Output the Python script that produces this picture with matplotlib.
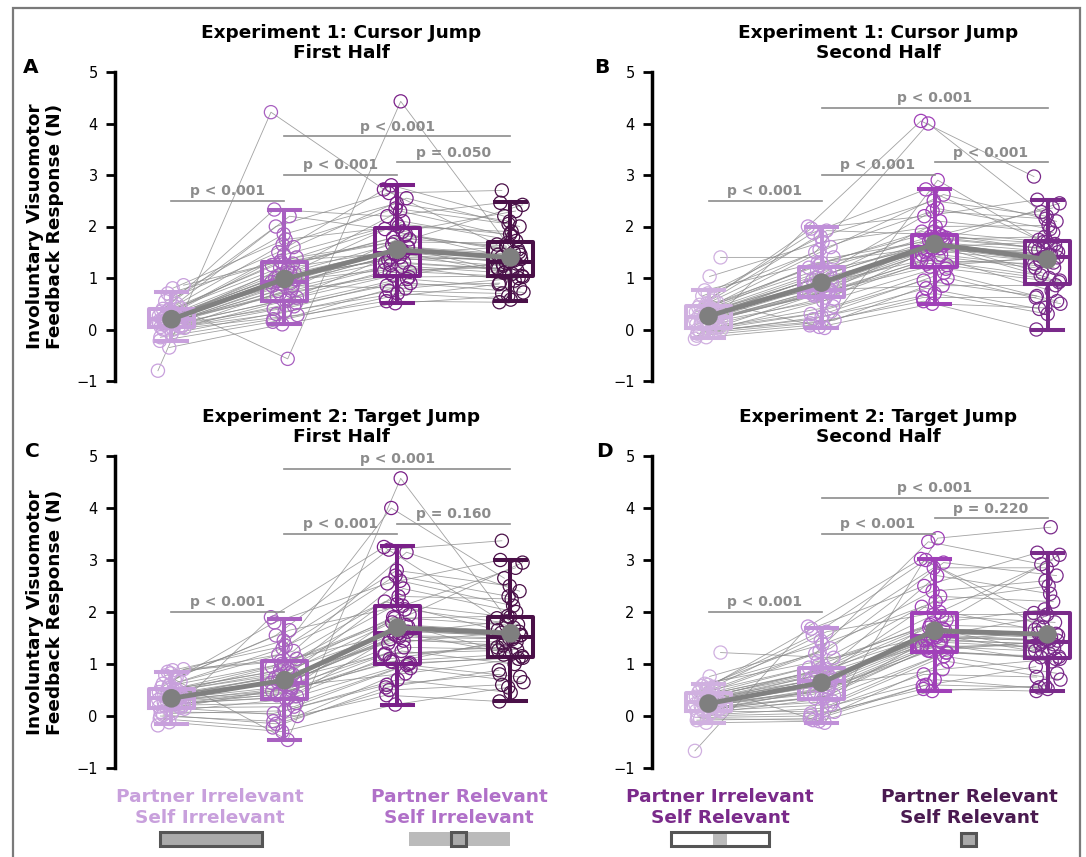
import numpy as np
import matplotlib
matplotlib.use("Agg")
import matplotlib.pyplot as plt
from matplotlib.patches import Rectangle

# ---------------- data ----------------
condition_labels = ["Partner Irrelevant\nSelf Irrelevant", "Partner Relevant\nSelf Irrelevant",
                    "Partner Irrelevant\nSelf Relevant", "Partner Relevant\nSelf Relevant"]
panel_titles = ["Experiment 1: Cursor Jump\nFirst Half", "Experiment 1: Cursor Jump\nSecond Half",
                "Experiment 2: Target Jump\nFirst Half", "Experiment 2: Target Jump\nSecond Half"]
panel_letters = ["A", "B", "C", "D"]
yticks = [-1, 0, 1, 2, 3, 4, 5]
sig_pairs = [(0, 1), (1, 2), (2, 3), (1, 3)]

# Panel A (per-subject values, one list per condition)
A_c1 = [-0.80, 0.45, 0.22, 0.05, 0.62, -0.15, 0.30, 0.13, 0.86, 0.00, 0.40, 0.18, -0.35, 0.26, 0.10, 0.55, 0.20, -0.08,
        0.35, 0.16, 0.70, 0.03, 0.28, 0.12, 0.42, 0.24, -0.22, 0.50, 0.19, 0.08, 0.80, 0.21, 0.06, 0.38, 0.15, 0.32,
        0.10, 0.25, 0.30, 0.05, 0.18, 0.35, 0.15, 0.22, 0.00, 0.28, 0.40, 0.12]
A_c2 = [4.22, -0.57, 0.94, 0.45, 1.85, 0.20, 1.10, 0.70, 1.40, 0.56, 2.00, 0.85, 0.10, 1.25, 0.60, 1.50, 0.97, 0.35,
        2.33, 0.75, 1.33, 0.28, 1.15, 0.65, 1.60, 0.88, 0.15, 2.20, 1.05, 0.52, 1.75, 1.00, 0.80, 1.30, 0.92, 1.20,
        0.75, 1.10, 1.45, 0.40, 0.90, 1.20, 0.62, 1.02, 0.30, 1.28, 1.65, 0.85]
A_c3 = [2.72, 4.43, 1.40, 0.98, 2.45, 0.55, 2.10, 1.05, 1.75, 1.50, 2.65, 0.80, 0.51, 1.95, 1.22, 2.80, 1.60, 0.70,
        2.20, 1.30, 1.48, 0.90, 2.30, 1.10, 2.55, 1.45, 0.62, 1.90, 1.65, 1.02, 2.00, 1.35, 1.82, 1.70, 1.15, 1.55,
        1.25, 1.60, 2.05, 0.85, 1.50, 1.78, 1.12, 1.40, 0.75, 1.85, 2.35, 1.30]
A_c4 = [1.65, 1.50, 1.24, 0.80, 2.10, 0.53, 1.72, 1.30, 2.42, 1.08, 2.70, 1.00, 0.65, 1.45, 0.95, 2.20, 1.37, 0.58,
        2.46, 1.16, 1.60, 0.72, 1.80, 1.27, 2.00, 1.32, 0.88, 2.30, 1.12, 1.04, 1.90, 1.40, 1.55, 1.68, 1.20, 1.34,
        1.10, 1.45, 1.85, 0.90, 1.28, 1.62, 1.02, 1.35, 0.70, 1.50, 2.05, 1.18]
A_q1 = [0.05, 0.55, 1.03, 1.03]
A_med = [0.20, 0.93, 1.48, 1.32]
A_q3 = [0.40, 1.32, 1.97, 1.70]
A_wlo = [-0.23, 0.10, 0.51, 0.55]
A_whi = [0.72, 2.33, 2.81, 2.47]
A_mean = [0.20, 0.98, 1.55, 1.40]
A_sig_y = [2.5, 3.0, 3.25, 3.75]
A_sig_txt = ["p < 0.001", "p < 0.001", "p = 0.050", "p < 0.001"]

# Panel B
B_c1 = [-0.18, 0.56, 0.30, 0.02, 0.70, -0.08, 0.38, 0.15, 1.40, -0.02, 0.48, 0.22, -0.15, 0.34, 0.09, 0.65, 0.26, -0.05,
        0.43, 0.20, 0.76, 0.00, 0.36, 0.12, 0.52, 0.32, -0.12, 0.60, 0.24, 0.06, 1.03, 0.28, 0.04, 0.45, 0.18, 0.40,
        0.12, 0.30, 0.38, 0.00, 0.22, 0.42, 0.18, 0.26, -0.05, 0.34, 0.50, 0.10]
B_c2 = [2.00, 0.03, 0.88, 0.35, 1.80, 0.12, 1.05, 0.70, 1.40, 0.55, 1.88, 0.78, 0.05, 1.20, 0.62, 1.50, 0.92, 0.25,
        1.96, 0.73, 1.30, 0.18, 1.10, 0.66, 1.60, 0.80, 0.08, 1.92, 1.00, 0.45, 1.70, 0.96, 0.76, 1.24, 0.84, 1.15,
        0.68, 1.00, 1.30, 0.30, 0.80, 1.15, 0.60, 0.90, 0.20, 1.10, 1.55, 0.72]
B_c3 = [4.05, 2.90, 1.54, 1.10, 2.50, 0.55, 2.10, 1.22, 1.78, 1.62, 2.72, 0.85, 0.50, 1.90, 1.40, 4.00, 1.68, 0.70,
        2.20, 1.45, 1.60, 1.00, 2.35, 1.28, 2.62, 1.57, 0.62, 1.84, 1.72, 1.18, 2.00, 1.50, 1.81, 1.75, 1.34, 1.65,
        1.35, 1.65, 1.90, 0.95, 1.58, 1.80, 1.25, 1.62, 0.80, 1.75, 2.30, 1.45]
B_c4 = [2.97, 1.62, 1.33, 0.55, 2.20, 0.00, 1.88, 1.40, 2.45, 1.00, 1.74, 0.86, 0.42, 1.58, 0.75, 2.28, 1.50, 0.30,
        2.52, 1.20, 1.70, 0.50, 1.95, 1.37, 2.10, 1.42, 0.62, 2.36, 1.10, 0.92, 2.02, 1.54, 1.66, 1.80, 1.28, 1.45,
        1.05, 1.40, 1.70, 0.65, 1.30, 1.58, 0.95, 1.45, 0.40, 1.55, 2.15, 1.20]
B_q1 = [0.03, 0.64, 1.22, 0.89]
B_med = [0.25, 0.77, 1.60, 1.41]
B_q3 = [0.46, 1.22, 1.83, 1.72]
B_wlo = [-0.16, 0.03, 0.50, 0.00]
B_whi = [0.77, 2.00, 2.73, 2.52]
B_mean = [0.26, 0.91, 1.66, 1.36]
B_sig_y = [2.5, 3.0, 3.25, 4.3]
B_sig_txt = ["p < 0.001", "p < 0.001", "p < 0.001", "p < 0.001"]

# Panel C
C_c1 = [-0.18, 0.70, 0.42, 0.16, 0.82, 0.00, 0.50, 0.29, 0.90, 0.10, 0.62, 0.35, -0.12, 0.46, 0.24, 0.78, 0.38, 0.05,
        0.55, 0.33, 0.85, 0.14, 0.48, 0.27, 0.66, 0.44, -0.05, 0.74, 0.36, 0.21, 0.88, 0.40, 0.18, 0.58, 0.31, 0.52,
        0.20, 0.36, 0.45, 0.08, 0.30, 0.50, 0.25, 0.38, 0.02, 0.42, 0.60, 0.18]
C_c2 = [1.90, -0.46, 0.66, 0.18, 1.45, -0.10, 0.82, 0.45, 1.10, 0.32, 1.55, 0.58, -0.30, 0.95, 0.36, 1.18, 0.70, 0.10,
        1.80, 0.50, 1.05, 0.00, 0.86, 0.40, 1.25, 0.61, -0.22, 1.65, 0.78, 0.25, 1.35, 0.74, 0.54, 1.00, 0.64, 0.90,
        0.42, 0.70, 0.98, 0.05, 0.55, 0.88, 0.38, 0.66, -0.15, 0.80, 1.30, 0.48]
C_c3 = [3.25, 4.57, 1.48, 0.98, 2.80, 0.40, 2.45, 1.04, 1.95, 1.60, 3.20, 0.82, 0.22, 2.20, 1.25, 4.00, 1.72, 0.70,
        2.55, 1.32, 1.58, 0.92, 2.60, 1.10, 3.15, 1.55, 0.55, 2.12, 1.80, 1.00, 2.30, 1.40, 2.05, 1.88, 1.18, 1.65,
        1.05, 1.62, 2.15, 0.60, 1.45, 1.90, 1.02, 1.52, 0.50, 1.75, 2.70, 1.20]
C_c4 = [1.88, 1.70, 1.36, 0.75, 2.50, 0.28, 2.00, 1.45, 2.95, 1.20, 3.37, 1.10, 0.55, 1.65, 1.00, 2.65, 1.56, 0.45,
        3.00, 1.28, 1.82, 0.65, 2.12, 1.40, 2.40, 1.50, 0.88, 2.85, 1.24, 1.15, 2.25, 1.60, 1.76, 1.92, 1.32, 1.52,
        1.18, 1.55, 1.90, 0.80, 1.42, 1.75, 1.12, 1.48, 0.60, 1.62, 2.30, 1.26]
C_q1 = [0.16, 0.32, 1.00, 1.14]
C_med = [0.35, 0.64, 1.59, 1.51]
C_q3 = [0.51, 1.05, 2.12, 1.91]
C_wlo = [-0.16, -0.46, 0.22, 0.28]
C_whi = [0.85, 1.87, 3.26, 3.00]
C_mean = [0.34, 0.69, 1.70, 1.59]
C_sig_y = [2.0, 3.5, 3.7, 4.75]
C_sig_txt = ["p < 0.001", "p < 0.001", "p = 0.160", "p < 0.001"]

# Panel D
D_c1 = [-0.67, 0.54, 0.33, 0.11, 0.60, -0.03, 0.41, 0.21, 1.22, 0.06, 0.50, 0.26, -0.13, 0.37, 0.17, 0.58, 0.29, 0.02,
        0.45, 0.25, 0.62, 0.09, 0.39, 0.19, 0.52, 0.35, -0.08, 0.56, 0.27, 0.15, 0.76, 0.31, 0.13, 0.47, 0.23, 0.43,
        0.12, 0.27, 0.35, 0.00, 0.20, 0.40, 0.15, 0.28, -0.05, 0.33, 0.48, 0.10]
D_c2 = [1.72, -0.13, 0.69, 0.22, 1.45, 0.00, 0.82, 0.46, 1.12, 0.33, 1.55, 0.60, -0.10, 0.93, 0.38, 1.20, 0.72, 0.15,
        1.68, 0.50, 1.05, 0.08, 0.86, 0.42, 1.30, 0.64, -0.05, 1.62, 0.78, 0.28, 1.38, 0.75, 0.55, 0.98, 0.67, 0.90,
        0.35, 0.68, 0.90, 0.05, 0.55, 0.85, 0.40, 0.66, -0.08, 0.75, 1.25, 0.45]
D_c3 = [3.02, 3.42, 1.48, 1.15, 2.85, 0.52, 2.30, 1.25, 1.85, 1.56, 3.00, 0.90, 0.48, 2.10, 1.38, 3.35, 1.65, 0.70,
        2.50, 1.42, 1.53, 1.05, 2.70, 1.30, 2.95, 1.51, 0.58, 2.00, 1.70, 1.22, 2.20, 1.45, 1.92, 1.78, 1.34, 1.60,
        1.26, 1.55, 1.95, 0.80, 1.45, 1.75, 1.22, 1.52, 0.60, 1.68, 2.40, 1.35]
D_c4 = [1.98, 3.63, 1.38, 0.82, 2.85, 0.48, 2.20, 1.43, 3.10, 1.20, 1.72, 1.10, 0.58, 1.66, 1.05, 2.92, 1.55, 0.52,
        3.14, 1.30, 1.90, 0.70, 2.35, 1.41, 2.70, 1.46, 0.95, 3.00, 1.25, 1.14, 2.50, 1.60, 1.80, 2.05, 1.35, 1.50,
        1.13, 1.45, 1.95, 0.75, 1.38, 1.70, 1.10, 1.44, 0.55, 1.58, 2.60, 1.25]
D_q1 = [0.10, 0.32, 1.24, 1.12]
D_med = [0.26, 0.67, 1.53, 1.43]
D_q3 = [0.45, 0.92, 1.99, 1.99]
D_wlo = [-0.13, -0.13, 0.48, 0.48]
D_whi = [0.62, 1.70, 3.02, 3.13]
D_mean = [0.24, 0.64, 1.64, 1.57]
D_sig_y = [2.0, 3.5, 3.8, 4.2]
D_sig_txt = ["p < 0.001", "p < 0.001", "p = 0.220", "p < 0.001"]

# ---------------- styles ----------------
first_half_colors = ["#c8a0dc", "#a860c0", "#7a2088", "#4a1048"]
second_half_colors = ["#d0b0e0", "#c090d8", "#a040b8", "#7a2a8a"]
legend_colors = ["#c8a0dc", "#b070c8", "#7a2a8a", "#4a1a50"]
GRAY = "#808080"
SIG_GRAY = "#8c8c8c"
BIG = 13.3

W, H = 1086, 857
fig = plt.figure(figsize=(W / 100, H / 100), dpi=100)


def px_box(x0, y0, x1, y1):
    """pixel box (top-left origin) -> figure fraction rect"""
    return [x0 / W, 1 - y1 / H, (x1 - x0) / W, (y1 - y0) / H]


axes_rects = [px_box(115, 72, 567, 381), px_box(652, 72, 1104, 381),
              px_box(115, 456, 567, 768), px_box(652, 456, 1104, 768)]
letter_pos = [(23, 73), (594, 73), (25, 457), (596, 457)]

panels = [
    ([A_c1, A_c2, A_c3, A_c4], A_q1, A_med, A_q3, A_wlo, A_whi, A_mean, A_sig_y, A_sig_txt, first_half_colors),
    ([B_c1, B_c2, B_c3, B_c4], B_q1, B_med, B_q3, B_wlo, B_whi, B_mean, B_sig_y, B_sig_txt, second_half_colors),
    ([C_c1, C_c2, C_c3, C_c4], C_q1, C_med, C_q3, C_wlo, C_whi, C_mean, C_sig_y, C_sig_txt, first_half_colors),
    ([D_c1, D_c2, D_c3, D_c4], D_q1, D_med, D_q3, D_wlo, D_whi, D_mean, D_sig_y, D_sig_txt, second_half_colors),
]

for k, (data, q1, med, q3, wlo, whi, means, sig_y, sig_txt, colors) in enumerate(panels):
    ax = fig.add_axes(axes_rects[k])
    n = len(data[0])
    jit = ((np.arange(n) * 0.6180339887) % 1.0 - 0.5) * 0.24
    xs = [c + jit for c in range(4)]
    # subject lines
    for s in range(n):
        ax.plot([xs[c][s] for c in range(4)], [data[c][s] for c in range(4)],
                color="#8a8a8a", lw=0.6, alpha=0.8, zorder=1, clip_on=False)
    # subject points
    for c in range(4):
        ax.scatter(xs[c], data[c], s=90, facecolors="none", edgecolors=colors[c],
                   linewidths=0.9, zorder=2, clip_on=False)
    # boxes
    for c in range(4):
        st = [dict(q1=q1[c], med=med[c], q3=q3[c], whislo=wlo[c], whishi=whi[c], label="")]
        lp = dict(color=colors[c], linewidth=2.9)
        ax.bxp(st, positions=[c], widths=0.39, capwidths=0.27, showfliers=False,
               boxprops=lp, whiskerprops=lp, capprops=lp, medianprops=lp,
               manage_ticks=False, zorder=3)
    # means
    ax.plot(range(4), means, color=GRAY, lw=3.5, zorder=5, solid_capstyle="round")
    ax.scatter(range(4), means, s=180, color="#7f7f7f", zorder=6, edgecolors="none")
    # significance
    for (i, j), y, t in zip(sig_pairs, sig_y, sig_txt):
        ax.plot([i, j], [y, y], color=SIG_GRAY, lw=1.2, zorder=4, clip_on=False)
        ax.text((i + j) / 2, y + 0.05, t, ha="center", va="bottom", color=SIG_GRAY,
                fontsize=10, fontweight="bold", zorder=7, clip_on=False)

    ax.set_xlim(-0.5, 3.5)
    ax.set_ylim(-1, 5)
    ax.set_yticks(yticks)
    ax.set_xticks([])
    for sp in ["top", "right", "bottom"]:
        ax.spines[sp].set_visible(False)
    ax.spines["left"].set_linewidth(2.5)
    ax.tick_params(axis="y", direction="out", length=6.5, width=2, pad=6, labelsize=10.5)
    ax.patch.set_alpha(0)
    ax.set_title(panel_titles[k], fontsize=BIG, fontweight="bold", pad=10, linespacing=1.15)
    if k in (0, 2):
        ax.set_ylabel("Involuntary Visuomotor\nFeedback Response (N)", fontsize=BIG,
                      fontweight="bold", labelpad=8.5, linespacing=1.15)
    lx, ly = letter_pos[k]
    fig.text(lx / W, 1 - ly / H, panel_letters[k], fontsize=14.5, fontweight="bold",
             ha="left", va="baseline")

# ---------------- bottom legend ----------------
legend_x = [210, 459, 720, 969]
for lbl, col, x in zip(condition_labels, legend_colors, legend_x):
    fig.text(x / W, 1 - 807.5 / H, lbl, ha="center", va="center", color=col,
             fontsize=BIG, fontweight="bold", linespacing=1.15)


def add_rect(x0, y0, x1, y1, fc, ec="none", lw=0.0):
    r = px_box(x0, y0, x1, y1)
    fig.patches.append(Rectangle((r[0], r[1]), r[2], r[3], transform=fig.transFigure,
                                 facecolor=fc, edgecolor=ec, linewidth=lw))


EDGE = "#555555"
add_rect(160, 832, 262, 846, "#aaaaaa", EDGE, 2.2)
add_rect(409, 832, 510, 846, "#bbbbbb")
add_rect(451, 832, 466, 846, "#aaaaaa", EDGE, 2.2)
add_rect(671, 832, 769, 846, "white", EDGE, 2.2)
add_rect(713, 834, 727, 845, "#bbbbbb")
add_rect(961, 833, 976, 846, "#aaaaaa", EDGE, 2.2)

# figure frame
fig.patches.append(Rectangle((13 / W, -0.02), (1080 - 13) / W, 1.02 - 8 / H, transform=fig.transFigure,
                             facecolor="none", edgecolor="#7a7a7a", linewidth=1.6))

fig.savefig("out.png", dpi=100)
